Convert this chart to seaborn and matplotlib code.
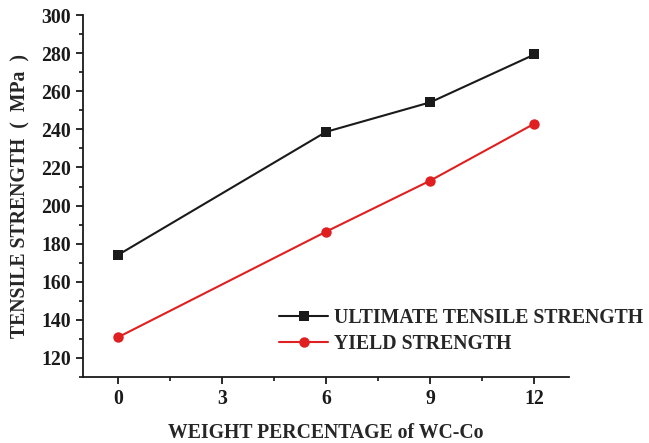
#!/usr/bin/env python3

import matplotlib
matplotlib.use("Agg")
import matplotlib.pyplot as plt
import seaborn as sns
import pandas as pd
from matplotlib.ticker import MultipleLocator

wc_co = [0, 6, 9, 12]
uts = [174, 238.7, 254.2, 279.3]
ys = [130.8, 186.3, 213.1, 243.0]
series = ["ULTIMATE TENSILE STRENGTH", "YIELD STRENGTH"]

df = pd.DataFrame({
    "x": wc_co * 2,
    "y": uts + ys,
    "series": [series[0]] * len(wc_co) + [series[1]] * len(wc_co),
})

sns.set_style("ticks")
plt.rcParams["font.family"] = ["Liberation Serif", "DejaVu Serif"]
plt.rcParams["font.weight"] = "bold"

fs = 14.2

fig = plt.figure(figsize=(6.49, 4.43), dpi=100)
ax = fig.add_axes([0.128, 0.149, 0.749, 0.817])

sns.lineplot(data=df, x="x", y="y", hue="series", style="series",
             markers={series[0]: "s", series[1]: "o"}, dashes=False,
             palette={series[0]: "#1a1a1a", series[1]: "#e02020"},
             markersize=7.5, markeredgewidth=0, linewidth=1.5, ax=ax)

ax.set_xlim(-1, 13)
ax.set_ylim(110, 300)
ax.set_xticks([0, 3, 6, 9, 12])
ax.set_yticks(range(120, 301, 20))
ax.xaxis.set_minor_locator(MultipleLocator(1.5))
ax.yaxis.set_minor_locator(MultipleLocator(10))
ax.tick_params(which="major", direction="out", length=5, width=1.3, labelsize=fs, colors="#1a1a1a")
ax.tick_params(which="minor", direction="out", length=3, width=1.3)
for lbl in ax.get_xticklabels() + ax.get_yticklabels():
    lbl.set_fontweight("bold")
for s in ["left", "bottom"]:
    ax.spines[s].set_linewidth(1.3)
    ax.spines[s].set_color("#1a1a1a")
sns.despine(ax=ax)

ax.set_xlabel("WEIGHT PERCENTAGE of WC-Co", fontsize=fs, fontweight="bold", labelpad=10)
ax.set_ylabel("TENSILE STRENGTH  (  MPa  )", fontsize=fs, fontweight="bold", labelpad=8)

leg = ax.legend(loc="upper left", bbox_to_anchor=(0.418, 0.322), bbox_transform=fig.transFigure,
                frameon=False, fontsize=fs, handlelength=2.5, handletextpad=0.3,
                labelspacing=0.3, borderaxespad=0)
for t in leg.get_texts():
    t.set_fontweight("bold")

fig.savefig("out.png", dpi=100)
plt.close(fig)
